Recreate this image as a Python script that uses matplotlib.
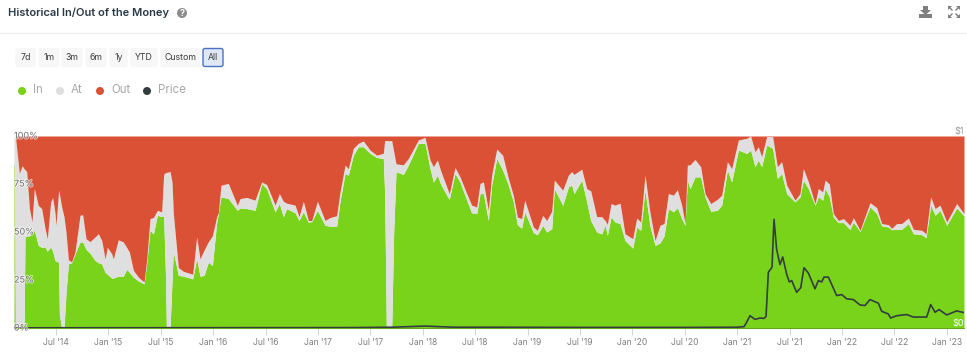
import matplotlib
matplotlib.use('Agg')
import matplotlib.pyplot as plt
import matplotlib.patheffects as pe
from matplotlib.patches import Circle, FancyBboxPatch, Polygon

plt.rcParams['font.family'] = ['Inter', 'DejaVu Sans']

# decimal years, share of addresses In the money, upper edge of the At band
years = [2014.099, 2014.105, 2014.112, 2014.150, 2014.176, 2014.195, 2014.204, 2014.220, 2014.246, 2014.271, 2014.293,
         2014.331, 2014.363, 2014.395, 2014.417, 2014.449, 2014.468, 2014.490, 2014.500, 2014.525, 2014.532,
         2014.554, 2014.576, 2014.595, 2014.618, 2014.649, 2014.681, 2014.729, 2014.754, 2014.786, 2014.824,
         2014.872, 2014.904, 2014.936, 2014.968, 2014.990, 2015.031, 2015.047, 2015.094, 2015.142, 2015.174,
         2015.200, 2015.238, 2015.286, 2015.340, 2015.366, 2015.397, 2015.429, 2015.467, 2015.508, 2015.527,
         2015.546, 2015.553, 2015.588, 2015.607, 2015.619, 2015.667, 2015.715, 2015.804, 2015.842, 2015.874,
         2015.912, 2015.954, 2015.992, 2016.033, 2016.049, 2016.074, 2016.144, 2016.230, 2016.256, 2016.319,
         2016.399, 2016.462, 2016.510, 2016.590, 2016.631, 2016.669, 2016.701, 2016.781, 2016.819, 2016.860,
         2016.908, 2016.940, 2016.994, 2017.067, 2017.114, 2017.178, 2017.210, 2017.258, 2017.289, 2017.337,
         2017.385, 2017.433, 2017.496, 2017.560, 2017.623, 2017.636, 2017.652, 2017.703, 2017.722, 2017.744,
         2017.814, 2017.862, 2017.957, 2018.021, 2018.069, 2018.101, 2018.139, 2018.170, 2018.228, 2018.253,
         2018.307, 2018.355, 2018.419, 2018.466, 2018.514, 2018.546, 2018.578, 2018.625, 2018.657, 2018.705,
         2018.762, 2018.816, 2018.864, 2018.902, 2018.943, 2018.972, 2019.055, 2019.093, 2019.144, 2019.182,
         2019.230, 2019.255, 2019.335, 2019.389, 2019.420, 2019.443, 2019.516, 2019.564, 2019.602, 2019.659,
         2019.707, 2019.739, 2019.761, 2019.796, 2019.834, 2019.882, 2019.929, 2020.003, 2020.041, 2020.079,
         2020.120, 2020.168, 2020.216, 2020.263, 2020.302, 2020.343, 2020.391, 2020.429, 2020.470, 2020.502,
         2020.524, 2020.550, 2020.597, 2020.651, 2020.693, 2020.747, 2020.810, 2020.852, 2020.906, 2020.947,
         2021.011, 2021.090, 2021.128, 2021.170, 2021.201, 2021.233, 2021.281, 2021.338, 2021.383, 2021.424,
         2021.472, 2021.551, 2021.599, 2021.631, 2021.679, 2021.742, 2021.774, 2021.816, 2021.838, 2021.879,
         2021.917, 2021.965, 2022.013, 2022.076, 2022.108, 2022.172, 2022.267, 2022.331, 2022.378, 2022.442,
         2022.474, 2022.522, 2022.569, 2022.633, 2022.681, 2022.760, 2022.802, 2022.846, 2022.888, 2022.935,
         2022.999, 2023.094, 2023.164]

in_pct = [85, 85, 0, 0, 0, 0, 47.4, 47.9, 48, 49.5, 50.9,
          43, 42, 42.2, 40, 42.2, 40, 35.2, 34.8, 34.3, 7,
          0, 0, 18, 33.4, 34, 38.5, 44.8, 44.8, 41, 39,
          35.2, 34, 33.4, 29, 28, 26, 26, 27, 27, 30.5,
          29, 26.5, 24.5, 23, 34, 51, 49, 58.7, 58, 58.5,
          25, 0, 0, 25, 40, 27.4, 27, 25.6, 36.1, 27,
          27.4, 34.3, 32.5, 55, 59.6, 68.3, 67.4, 61.3, 62.5, 62.2,
          61.3, 75.2, 72.6, 60.5, 64.8, 58, 62.2, 60, 56, 60.5,
          55, 55.5, 61.3, 53.5, 53, 53, 66, 80.5, 79.6, 90,
          94.4, 94.4, 91, 88.8, 88.3, 70, 0, 0, 50, 81.4,
          80, 84.8, 96.2, 96.2, 83, 76, 79.6, 75, 69.2, 67,
          80.5, 76, 66.6, 60, 59.6, 70, 70, 56, 74.4, 88.3,
          82.2, 74.4, 65.7, 53.8, 52, 60.5, 49.6, 48.6, 53.5, 50,
          51.7, 72.6, 63.9, 73.5, 74.4, 70, 77, 65.7, 56, 50,
          49, 53.5, 48.3, 57.8, 55.2, 54.4, 45.6, 41.6, 52.6, 50.9,
          71.8, 53, 43, 44.3, 48, 62.2, 60.5, 62.7, 57, 53.5,
          77, 72.6, 78.7, 78.7, 68.3, 60.8, 61.3, 64, 82.2, 76.1,
          92.7, 90.9, 92.7, 84, 87.5, 84, 95.3, 93.6, 77.9, 80.5,
          70, 65.7, 68.3, 77, 72.6, 64, 68.3, 66.6, 72.6, 68.3,
          57.8, 54.9, 54.9, 51.3, 55.2, 50.3, 63.1, 59.6, 53.2, 52.6,
          51.2, 51.4, 51.4, 54.4, 49.1, 48.6, 47, 64, 58.7, 61.3,
          53.5, 62.5, 58.4]

at_top_pct = [100, 100, 100, 80.5, 84.5, 83, 82.5, 81.5, 62.2, 55.2, 72.6,
              63.9, 62.2, 52, 46.5, 65.7, 67.9, 60, 53.5, 71.8, 70,
              63, 58, 50, 35.5, 34.5, 39.5, 58.7, 59, 46.5, 45,
              47.4, 49.1, 45.6, 36, 42, 38.7, 36, 46, 44.8, 42,
              39.5, 30, 26.5, 24, 36, 57, 57.5, 61.3, 60.5, 80,
              81, 81, 81.5, 76, 60, 31.5, 29.5, 28, 47.4, 36,
              40.5, 45, 48, 58, 60, 74.4, 75.3, 63.9, 67.4, 68,
              66.6, 76.1, 74.7, 64, 70, 66, 65, 64, 58, 66,
              56, 56, 66, 56, 57.5, 58.5, 70.9, 84.8, 83, 93.6,
              96.2, 97.4, 92.7, 90, 91, 97.6, 97.6, 97.6, 92, 85.5,
              85, 88.3, 97.9, 99.3, 87.5, 84, 87.5, 82, 73.5, 70,
              83.6, 78.7, 70, 64, 63, 75.3, 76.1, 61.3, 79.6, 93.2,
              90, 78, 69, 57.8, 57, 66.6, 52.6, 50.9, 58.7, 56,
              60.8, 77, 71.8, 79.6, 81.4, 80, 82.7, 72.6, 71.4, 58,
              58, 56, 54, 64.8, 64, 65, 49.1, 46.5, 57.3, 55.2,
              79.6, 60, 45.6, 53.5, 54.4, 70, 69.2, 72, 64, 54.4,
              84.8, 85, 87.8, 84, 70, 64.8, 67, 69.2, 86.6, 83,
              97.9, 98.8, 100, 91.8, 94.4, 89.2, 99.7, 99.7, 84, 86.6,
              74.4, 66.6, 70, 83, 76.1, 64.8, 72.6, 70.9, 77, 75,
              59.6, 56, 57, 53.5, 57.5, 50.9, 65.3, 62.7, 54.4, 53.8,
              51.9, 54.4, 54.4, 57.3, 51.4, 50.9, 49.1, 68.3, 62.2, 64,
              55.2, 64.8, 59.6]

price_years = [2014.099, 2017.3, 2017.7, 2018.021, 2018.3, 2018.7, 2019.5, 2020.5, 2020.995, 2021.065,
               2021.090, 2021.122, 2021.170, 2021.218, 2021.256, 2021.275, 2021.297, 2021.332, 2021.351, 2021.376,
               2021.408, 2021.434, 2021.472, 2021.497, 2021.520, 2021.567, 2021.606, 2021.637, 2021.679, 2021.742,
               2021.774, 2021.806, 2021.828, 2021.870, 2021.949, 2021.997, 2022.045, 2022.108, 2022.172, 2022.219,
               2022.267, 2022.347, 2022.378, 2022.442, 2022.464, 2022.522, 2022.617, 2022.681, 2022.808, 2022.846,
               2022.888, 2022.926, 2022.999, 2023.094, 2023.164]
price = [0.001, 0.002, 0.004, 0.01, 0.004, 0.004, 0.003, 0.003, 0.004, 0.007,
         0.03, 0.064, 0.045, 0.052, 0.05, 0.06, 0.29, 0.317, 0.566, 0.41,
         0.33, 0.37, 0.28, 0.24, 0.247, 0.186, 0.21, 0.314, 0.286, 0.204,
         0.247, 0.24, 0.265, 0.265, 0.169, 0.174, 0.152, 0.148, 0.12, 0.117,
         0.148, 0.129, 0.087, 0.073, 0.052, 0.064, 0.07, 0.057, 0.057, 0.122,
         0.082, 0.096, 0.068, 0.089, 0.08]

tick_years = [2014.5, 2015, 2015.5, 2016, 2016.5, 2017, 2017.5, 2018, 2018.5, 2019, 2019.5,
              2020, 2020.5, 2021, 2021.5, 2022, 2022.5, 2023]
tick_labels = ["Jul '14", "Jan '15", "Jul '15", "Jan '16", "Jul '16", "Jan '17", "Jul '17", "Jan '18", "Jul '18",
               "Jan '19", "Jul '19", "Jan '20", "Jul '20", "Jan '21", "Jul '21", "Jan '22", "Jul '22", "Jan '23"]
pct_ticks = [0, 25, 50, 75, 100]

buttons = ['7d', '1m', '3m', '6m', '1y', 'YTD', 'Custom', 'All']
button_x = [16, 39, 62, 86, 110, 131, 161, 203]
button_w = [19, 20, 20, 20, 17, 26, 39, 20]
legend_names = ['In', 'At', 'Out', 'Price']
legend_x = [22, 60, 100, 147]

GREEN = '#79d31a'
GREY = '#dfdfdf'
RED = '#da5136'
DARK = '#343c40'
W, H = 967, 355

fig = plt.figure(figsize=(W / 100, H / 100), dpi=100)

ax = fig.add_axes([14 / W, 1 - 328 / H, 950 / W, 192 / H])
ax.fill_between(years, 0, in_pct, color=GREEN, lw=0)
ax.fill_between(years, in_pct, at_top_pct, color=GREY, lw=0)
ax.fill_between(years, at_top_pct, 100, color=RED, lw=0)
ax.set_xlim(2014.099, 2023.164)
ax.set_ylim(0, 100)
ax.set_xticks(tick_years)
ax.set_xticklabels(tick_labels, fontsize=6.2, color='#808080')
ax.tick_params(axis='x', length=5, width=0.7, color='#d5d5d5', pad=2.5)
ax.set_yticks([])
for s in ['top', 'left', 'right']:
    ax.spines[s].set_visible(False)
ax.spines['bottom'].set_color('#5fa818')
ax.spines['bottom'].set_linewidth(0.8)

# price has its own scale on the right
ax2 = ax.twinx()
ax2.plot(price_years, price, color=DARK, lw=1.2)
ax2.set_ylim(0, 1)
ax2.set_yticks([])
for s in ax2.spines.values():
    s.set_visible(False)
ax2.text(1, 1.026, '$1', transform=ax2.transAxes, fontsize=6.5, color='#9a9a9a', ha='right', va='center', clip_on=False)
ax2.text(1, 0.022, '$0', transform=ax2.transAxes, fontsize=6.5, color='white', ha='right', va='center')

halo = [pe.withStroke(linewidth=1.5, foreground='white', alpha=0.55)]
for p in pct_ticks:
    ax2.text(2014.099, p / 100, '%d%%' % p, fontsize=6.5, color='#777777', va='center', ha='left',
             clip_on=False, path_effects=halo)

# page furniture around the chart, in pixel coordinates
ui = fig.add_axes([0, 0, 1, 1], zorder=-1)
ui.set_xlim(0, W)
ui.set_ylim(H, 0)
ui.axis('off')
ui.text(8, 12.5, 'Historical In/Out of the Money', fontsize=8, fontweight='semibold', color='#2b3a47', va='center')
ui.add_patch(Circle((182, 13), 5, color='#8c8c8c', lw=0))
ui.text(182, 13, '?', fontsize=6.5, fontweight='bold', color='white', ha='center', va='center')
ui.plot([0, W], [33, 33], color='#eeeeee', lw=1)

for name, x, w in zip(buttons, button_x, button_w):
    active = name == 'All'
    ui.add_patch(FancyBboxPatch((x, 48.5), w, 18, boxstyle='round,pad=0,rounding_size=2',
                                fc='#dfe8f6' if active else '#f7f7f7',
                                ec='#4a72c4' if active else '#f7f7f7', lw=1))
    ui.text(x + w / 2, 58, name, fontsize=6.3, color='#3c3c3c', ha='center', va='center')

for name, x, c in zip(legend_names, legend_x, [GREEN, GREY, RED, DARK]):
    ui.add_patch(Circle((x, 91), 4, color=c, lw=0))
    ui.text(x + 11, 90, name, fontsize=8.3, color='#a8a8a8', va='center')

# download and expand icons
ui.add_patch(Polygon([(923, 6), (928, 6), (928, 10), (931, 10), (925.5, 15), (920, 10), (923, 10)], color='#7f7f7f', lw=0))
ui.add_patch(Polygon([(919, 14), (932, 14), (932, 18), (919, 18)], color='#7f7f7f', lw=0))
for dx, dy in [(-1, -1), (1, -1), (-1, 1), (1, 1)]:
    cx, cy = 954, 12
    ui.add_patch(Polygon([(cx + 6 * dx, cy + 6 * dy), (cx + 2 * dx, cy + 6 * dy), (cx + 6 * dx, cy + 2 * dy)], color='#7f7f7f', lw=0))
    ui.plot([cx + 5 * dx, cx + 2 * dx], [cy + 5 * dy, cy + 2 * dy], color='#7f7f7f', lw=1)

fig.savefig('out.png', dpi=100)
